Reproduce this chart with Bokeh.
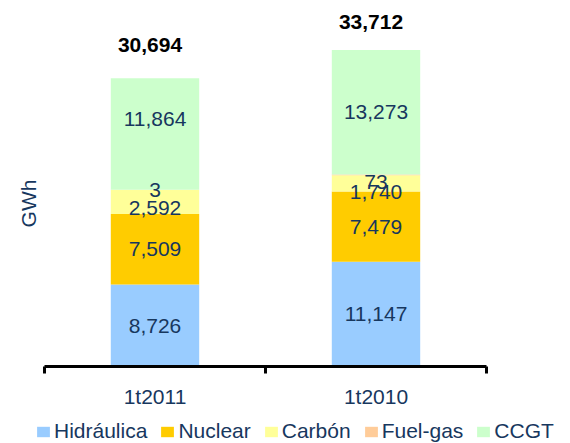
import math
from bokeh.plotting import figure
from bokeh.models import (Range1d, LinearAxis, FixedTicker, ColumnDataSource,
                          Legend, LegendItem, Label)
from bokeh.core.properties import value
from bokeh.embed import file_html
from bokeh.resources import INLINE

# ---- data ----
categories = ["1t2011", "1t2010"]
series_names = ["Hidráulica", "Nuclear", "Carbón", "Fuel-gas", "CCGT"]
hidraulica = [8726, 11147]
nuclear = [7509, 7479]
carbon = [2592, 1740]
fuel_gas = [3, 73]
ccgt = [11864, 13273]
totals = [30694, 33712]
unit_label = "GWh"

# ---- style / layout ----
colors = ["#99CCFF", "#FFCC00", "#FFFF99", "#FFCC99", "#CCFFCC"]
navy = "#17375E"
FONT = "Liberation Sans"
W, H = 570, 443
AXIS_LEFT_PX = 44      # left end of the category axis
SLOT_PX = 221          # width of one category slot
BASE_PX = 366          # y pixel of the baseline (from top)
PX_PER_GWH = 9.39 / 1000
UNIT_LABEL_POS = (28, 203)   # screen px (from top-left) of the rotated unit label
# pixel nudges of the value labels (positive = down), per series, per category
label_nudges = [[0, 0], [0, 0], [6, 9], [0, 7], [-15, 0]]
total_nudges = [-33, -28]

series = [hidraulica, nuclear, carbon, fuel_gas, ccgt]
keys = ["hid", "nuc", "car", "fue", "ccg"]

# category slots: slot i spans [i, i+1], bar in its middle
n = len(categories)
xpos = [i + 0.5 for i in range(n)]
bounds = [float(i) for i in range(n + 1)]

data = {"x": xpos}
for k, s in zip(keys, series):
    data[k] = s
source = ColumnDataSource(data)

x_range = Range1d(-AXIS_LEFT_PX / SLOT_PX, (W - AXIS_LEFT_PX) / SLOT_PX)
y_range = Range1d(-(H - BASE_PX) / PX_PER_GWH, BASE_PX / PX_PER_GWH)

p = figure(x_range=x_range, y_range=y_range,
           width=W, height=H, output_backend="svg", toolbar_location=None,
           x_axis_location=None, y_axis_location=None,
           min_border=0, outline_line_color=None,
           background_fill_color="white", border_fill_color="white")
p.grid.visible = False

renderers = p.vbar_stack(keys, x="x", width=0.4, fill_color=colors,
                         line_color=None, source=source)

# value labels at segment middles
lx, ly, lt, lo = [], [], [], []
for i in range(n):
    bottom = 0
    for j, s in enumerate(series):
        v = s[i]
        lx.append(xpos[i])
        ly.append(bottom + v / 2)
        lt.append(f"{v:,}")
        lo.append(label_nudges[j][i])
        bottom += v
lab = ColumnDataSource(dict(x=lx, y=ly, text=lt, yo=lo))
p.text(x="x", y="y", text="text", y_offset="yo", source=lab,
       text_align="center", text_baseline="middle",
       text_font=value(FONT), text_font_size="21px", text_color=navy)

tot = ColumnDataSource(dict(x=xpos, y=totals,
                            text=[f"{t:,}" for t in totals], yo=total_nudges))
p.text(x="x", y="y", text="text", y_offset="yo", x_offset=-5, source=tot,
       text_align="center", text_baseline="middle",
       text_font=value(FONT), text_font_size="21px", text_font_style="bold",
       text_color="black")

# axis line with boundary ticks, at y = 0
tick_axis = LinearAxis(ticker=FixedTicker(ticks=bounds), fixed_location=0,
                       bounds=(bounds[0], bounds[-1]),
                       major_label_overrides={b: "" for b in bounds},
                       axis_line_color="black", axis_line_width=3,
                       major_tick_line_color="black", major_tick_line_width=3,
                       major_tick_out=7, major_tick_in=0,
                       minor_tick_line_color=None, minor_tick_out=0,
                       major_label_text_font_size="1px", major_label_standoff=0)
p.add_layout(tick_axis, "below")

cat_axis = LinearAxis(ticker=FixedTicker(ticks=xpos), fixed_location=0,
                      major_label_overrides={x: c for x, c in zip(xpos, categories)},
                      axis_line_color=None, major_tick_line_color=None,
                      minor_tick_line_color=None,
                      major_tick_out=0, major_tick_in=0, minor_tick_out=0,
                      major_label_standoff=18,
                      major_label_text_font=FONT,
                      major_label_text_font_size="21px",
                      major_label_text_color=navy)
p.add_layout(cat_axis, "below")

# rotated unit label on the left
p.add_layout(Label(x=UNIT_LABEL_POS[0], y=H - UNIT_LABEL_POS[1],
                   x_units="screen", y_units="screen", text=unit_label,
                   angle=math.pi / 2, text_align="center", text_baseline="middle",
                   text_font=FONT, text_font_size="21px", text_color=navy))

items = [LegendItem(label=nm, renderers=[r]) for nm, r in zip(series_names, renderers)]
legend = Legend(items=items, orientation="horizontal", location=(35, 0),
                glyph_width=16, glyph_height=13, label_standoff=3, spacing=12,
                padding=0, margin=0, border_line_color=None,
                background_fill_alpha=0, label_height=20,
                label_text_font=FONT, label_text_font_size="21px",
                label_text_color=navy)
p.add_layout(legend, "center")

open("out.html", "w").write(file_html(p, INLINE))
